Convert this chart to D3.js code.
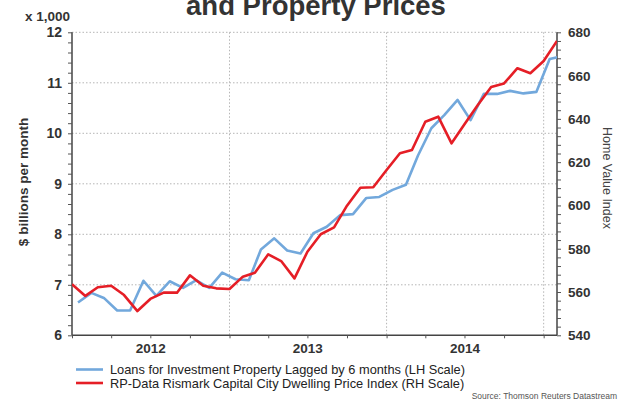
<!DOCTYPE html>
<html><head><meta charset="utf-8">
<script src="https://cdn.jsdelivr.net/npm/d3@7"></script>
<style>body{margin:0;background:#fff}svg{display:block}text{font-family:"Liberation Sans",Arial,sans-serif}</style>
</head><body>
<script>
const months = ["2012-01","2012-02","2012-03","2012-04","2012-05","2012-06","2012-07","2012-08","2012-09","2012-10","2012-11","2012-12",
"2013-01","2013-02","2013-03","2013-04","2013-05","2013-06","2013-07","2013-08","2013-09","2013-10","2013-11","2013-12",
"2014-01","2014-02","2014-03","2014-04","2014-05","2014-06","2014-07","2014-08","2014-09","2014-10","2014-11","2014-12",
"2015-01","2015-02"];
const loans = [6.65,6.84,6.74,6.49,6.49,7.08,6.78,7.07,6.94,7.09,6.94,7.24,7.11,7.09,7.70,7.92,7.68,7.62,8.02,8.15,8.38,8.40,8.72,8.74,8.88,8.98,9.56,10.10,10.36,10.66,10.26,10.78,10.78,10.84,10.79,10.82,11.47,11.53];
const priceIndex = [563.6,558.2,562.2,562.9,558.6,551.2,556.8,559.7,559.7,567.7,562.9,561.7,561.4,567.1,568.9,577.4,574.3,566.3,578.6,586.7,589.9,599.9,608.2,608.4,616.4,624.1,625.6,638.7,641.0,628.7,637.5,646.4,654.7,656.4,663.4,661.1,666.7,676.0];
const leftTicks = [6,7,8,9,10,11,12];
const rightTicks = [540,560,580,600,620,640,660,680];
const yearLabels = ["2012","2013","2014"];
const legendLabels = ["Loans for Investment Property Lagged by 6 months (LH Scale)","RP-Data Rismark Capital City Dwelling Price Index (RH Scale)"];
const colors = ["#72a8dc","#e51e26"];

const W=621,H=401, L=72, R=557, T=32.3, B=335.3;
const svg = d3.select("body").append("svg").attr("width",W).attr("height",H);
const parse = d3.utcParse("%Y-%m-%d");
const x = d3.scaleUtc().domain([parse("2012-01-01"),parse("2015-02-01")]).range([L,R]);
const yL = d3.scaleLinear().domain([6,12]).range([B,T]);
const yR = d3.scaleLinear().domain([540,680]).range([B,T]);

// title
svg.append("text").attr("x",316).attr("y",15).attr("text-anchor","middle")
  .attr("font-size",27.5).attr("font-weight","bold").attr("fill","#333").text("and Property Prices");
svg.append("text").attr("x",25).attr("y",21).attr("font-size",13.5).attr("font-weight","bold").attr("fill","#333").text("x 1,000");

// gridlines
const grid = svg.append("g").attr("stroke","#b5b5b5").attr("stroke-dasharray","1.5,2").attr("stroke-width",1);
leftTicks.filter(d=>d>6).forEach(v=>grid.append("line").attr("x1",L).attr("x2",R).attr("y1",yL(v)).attr("y2",yL(v)));
yearLabels.forEach(yr=>{const xx=x(parse((+yr+1)+"-01-01"));grid.append("line").attr("x1",xx).attr("x2",xx).attr("y1",T).attr("y2",B);});

// axes
const axL = d3.axisLeft(yL).tickValues(d3.range(6,12.001,0.2)).tickSize(4).tickFormat("");
const gL = svg.append("g").attr("transform",`translate(${L},0)`).call(axL);
const axR = d3.axisRight(yR).tickValues(d3.range(540,680.001,4)).tickSize(4).tickFormat("");
const gR = svg.append("g").attr("transform",`translate(${R},0)`).call(axR);
const axB = d3.axisBottom(x).ticks(d3.utcMonth.every(3)).tickSize(3).tickFormat("");
const gB = svg.append("g").attr("transform",`translate(0,${B})`).call(axB);
[gL,gR,gB].forEach(g=>{g.selectAll("path").attr("stroke","#444").attr("stroke-width",1.5);g.selectAll("line").attr("stroke","#555");});
gL.select(".domain").attr("d",`M0,${T}V${B}`);
gR.select(".domain").attr("d",`M0,${T}V${B}`);
gB.select(".domain").attr("d",`M${L},0H${R}`);

// tick labels
svg.append("g").selectAll("text").data(leftTicks).join("text")
  .attr("x",62).attr("y",d=>yL(d)+5).attr("text-anchor","end").attr("font-size",14).attr("font-weight","bold").attr("fill","#333").text(d=>d);
svg.append("g").selectAll("text").data(rightTicks).join("text")
  .attr("x",568).attr("y",d=>yR(d)+5).attr("font-size",13.5).attr("font-weight","bold").attr("fill","#333").text(d=>d);
svg.append("g").selectAll("text").data(yearLabels).join("text")
  .attr("x",d=>x(parse(d+"-07-02"))).attr("y",353).attr("text-anchor","middle").attr("font-size",13.5).attr("font-weight","bold").attr("fill","#333").text(d=>d);

// axis titles
svg.append("text").attr("transform","translate(28,182) rotate(-90)").attr("text-anchor","middle")
  .attr("font-size",13.5).attr("font-weight","bold").attr("fill","#333").text("$ billions per month");
svg.append("text").attr("transform","translate(603,178) rotate(90)").attr("text-anchor","middle")
  .attr("font-size",12.5).attr("fill","#444").text("Home Value Index");

// lines
svg.append("clipPath").attr("id","clip").append("rect").attr("x",L).attr("y",0).attr("width",R-L).attr("height",H);
const plot = svg.append("g").attr("clip-path","url(#clip)");
const lineL = d3.line().x((d,i)=>x(parse(months[i]+"-15"))).y(d=>yL(d));
const lineR = d3.line().x((d,i)=>x(parse(months[i]+"-01"))).y(d=>yR(d));
plot.append("path").attr("d",lineL(loans)).attr("fill","none").attr("stroke",colors[0]).attr("stroke-width",2.6).attr("stroke-linejoin","round");
plot.append("path").attr("d",lineR(priceIndex)).attr("fill","none").attr("stroke",colors[1]).attr("stroke-width",2.6).attr("stroke-linejoin","round");

// legend
const lg = svg.append("g");
legendLabels.forEach((t,i)=>{
  const yy = 369.5 + i*13.5;
  lg.append("line").attr("x1",76).attr("x2",103).attr("y1",yy).attr("y2",yy).attr("stroke",colors[i]).attr("stroke-width",2.6);
  lg.append("text").attr("x",110).attr("y",yy+4.5).attr("font-size",12.8).attr("fill","#222").text(t);
});
svg.append("text").attr("x",617).attr("y",399).attr("text-anchor","end").attr("font-size",8.5).attr("fill","#555").text("Source: Thomson Reuters Datastream");
</script>
</body></html>
